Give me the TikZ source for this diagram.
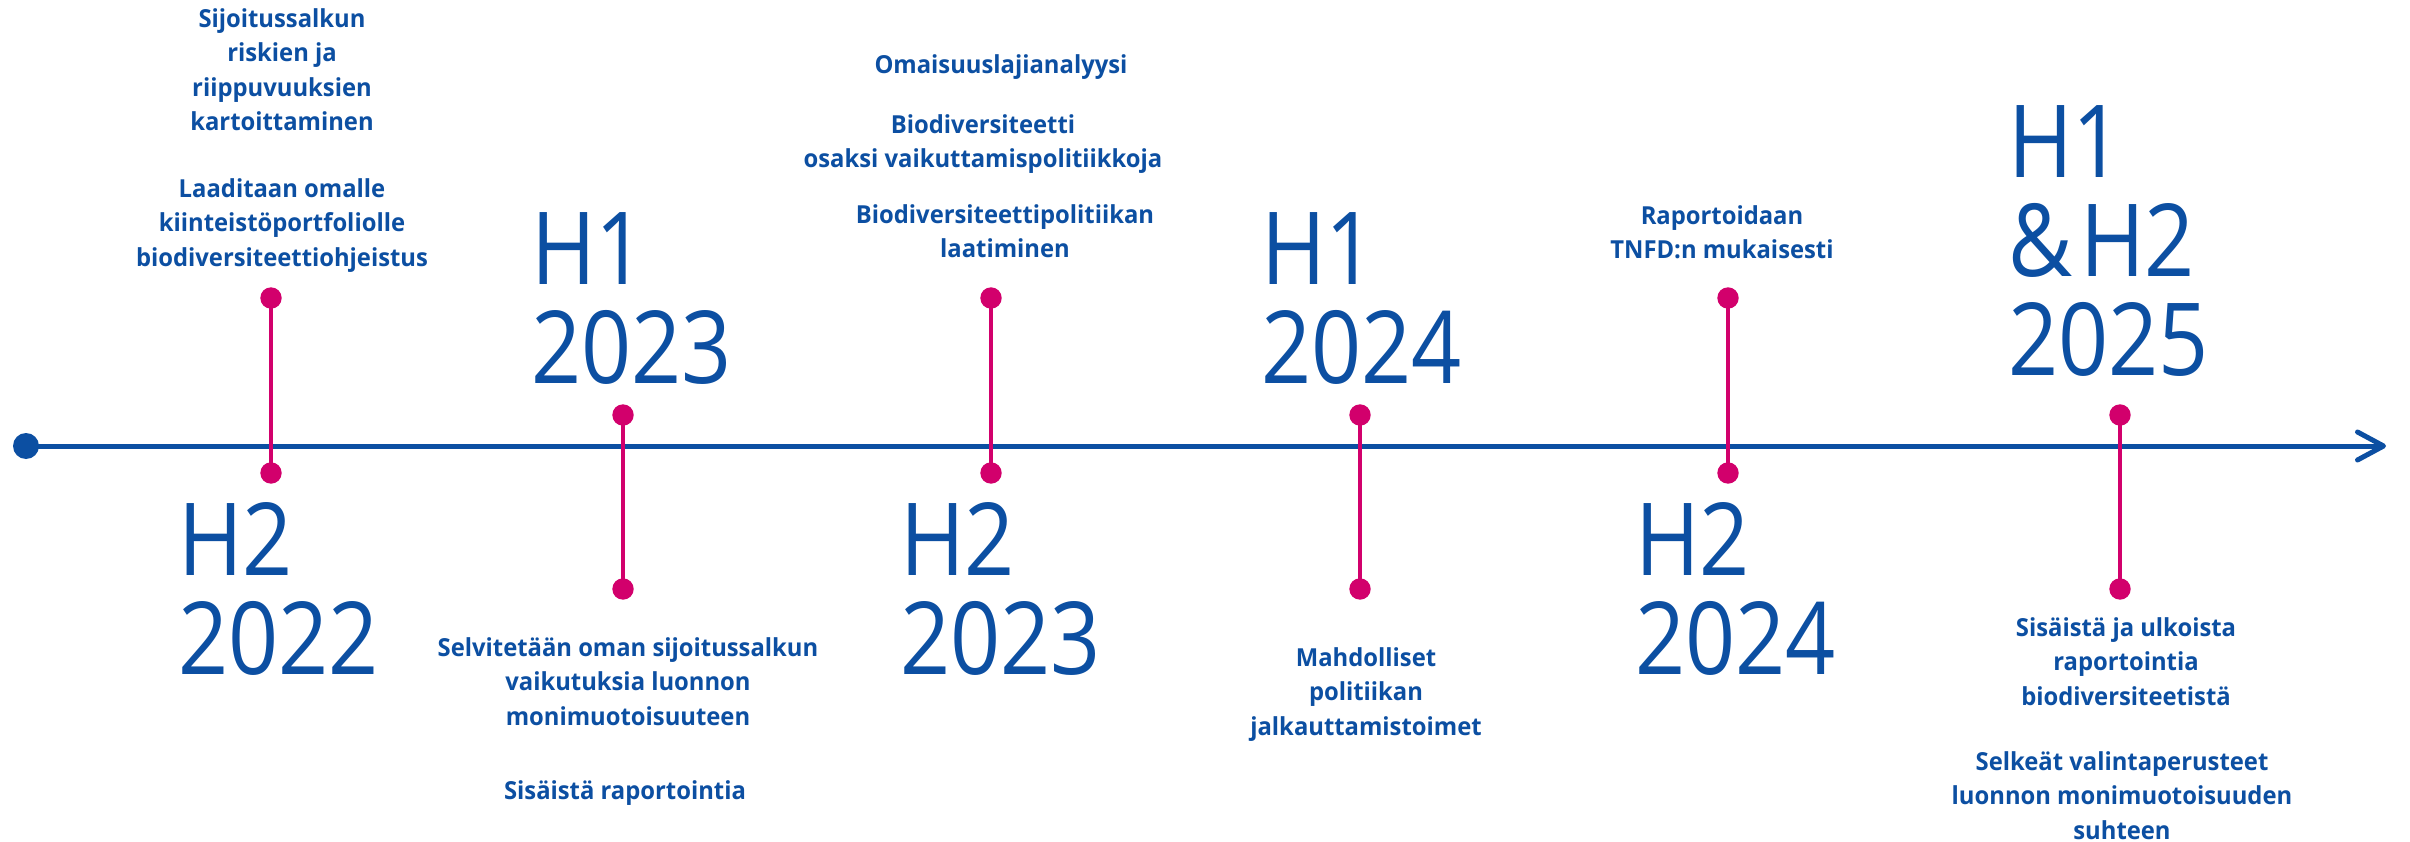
\documentclass[tikz,border=0pt]{standalone}
\usepackage{fontspec}
\setmainfont{Open Sans}
\newfontfamily\notefont[FakeStretch=0.96]{Open Sans}
\newfontfamily\yearfont[FakeStretch=0.87]{Open Sans}
\usetikzlibrary{arrows.meta}
\definecolor{tlblue}{RGB}{12,79,162}
\definecolor{tlpink}{RGB}{210,0,108}

\begin{document}
\begin{tikzpicture}[x=1pt, y=-1pt,
  axis/.style={draw=tlblue, line width=5pt},
  stem/.style={draw=tlpink, line width=4.5pt},
  note/.style={font=\notefont\bfseries\fontsize{24.8}{34.5}\selectfont, text=tlblue, align=center, inner sep=0pt, anchor=north},
  yearlabel/.style={font=\yearfont\fontsize{100.8}{99}\selectfont, text=tlblue, align=left, inner sep=0pt, anchor=north west}]
  \useasboundingbox[fill=white] (0,0) rectangle (2410,842);

  % time axis
  \coordinate (start) at (26,446);
  \coordinate (tip) at (2386,446);
  \draw[axis, -{Straight Barb[length=26pt, width=28pt, round]}] (start) -- (tip);
  \fill[tlblue] (start) circle[radius=13pt];

  % pink markers
  \coordinate (m1a) at (271,298);  \coordinate (m1b) at (271,473);
  \coordinate (m2a) at (623,415);  \coordinate (m2b) at (623,589);
  \coordinate (m3a) at (991,298);  \coordinate (m3b) at (991,473);
  \coordinate (m4a) at (1360,415); \coordinate (m4b) at (1360,589);
  \coordinate (m5a) at (1728,298); \coordinate (m5b) at (1728,473);
  \coordinate (m6a) at (2120,415); \coordinate (m6b) at (2120,589);
  \draw[stem] (m1a) -- (m1b);
  \draw[stem] (m2a) -- (m2b);
  \draw[stem] (m3a) -- (m3b);
  \draw[stem] (m4a) -- (m4b);
  \draw[stem] (m5a) -- (m5b);
  \draw[stem] (m6a) -- (m6b);
  \fill[tlpink] (m1a) circle[radius=10.7pt] (m1b) circle[radius=10.7pt];
  \fill[tlpink] (m2a) circle[radius=10.7pt] (m2b) circle[radius=10.7pt];
  \fill[tlpink] (m3a) circle[radius=10.7pt] (m3b) circle[radius=10.7pt];
  \fill[tlpink] (m4a) circle[radius=10.7pt] (m4b) circle[radius=10.7pt];
  \fill[tlpink] (m5a) circle[radius=10.7pt] (m5b) circle[radius=10.7pt];
  \fill[tlpink] (m6a) circle[radius=10.7pt] (m6b) circle[radius=10.7pt];

  % half-year labels
  \node[yearlabel] (y22b) at (178,502) {H2\\2022};
  \node[yearlabel] (y23a) at (531,212) {H1\\2023};
  \node[yearlabel] (y23b) at (900,502) {H2\\2023};
  \node[yearlabel] (y24a) at (1261,212) {H1\\2024};
  \node[yearlabel] (y24b) at (1635,502) {H2\\2024};
  \node[yearlabel] (y25) at (2008,105) {H1\\\&\kern0.08em H2\\2025};

  % notes above the axis
  \node[note] (n1a) at (282,8) {Sijoitussalkun\\riskien ja\\riippuvuuksien\\kartoittaminen};
  \node[note] (n1b) at (282,178) {Laaditaan omalle\\kiinteistöportfoliolle\\biodiversiteettiohjeistus};
  \node[note] (n3a) at (1001,54) {Omaisuuslajianalyysi};
  \node[note] (n3b) at (983,114) {Biodiversiteetti\\osaksi vaikuttamispolitiikkoja};
  \node[note] (n3c) at (1005,204) {Biodiversiteettipolitiikan\\laatiminen};
  \node[note] (n5) at (1722,205) {Raportoidaan\\TNFD:n mukaisesti};

  % notes below the axis
  \node[note] (n2a) at (628,637) {Selvitetään oman sijoitussalkun\\vaikutuksia luonnon\\monimuotoisuuteen};
  \node[note] (n2b) at (625,780) {Sisäistä raportointia};
  \node[note] (n4) at (1366,647) {Mahdolliset\\politiikan\\jalkauttamistoimet};
  \node[note] (n6a) at (2126,617) {Sisäistä ja ulkoista\\raportointia\\biodiversiteetistä};
  \node[note] (n6b) at (2122,751) {Selkeät valintaperusteet\\luonnon monimuotoisuuden\\suhteen};
\end{tikzpicture}
\end{document}
